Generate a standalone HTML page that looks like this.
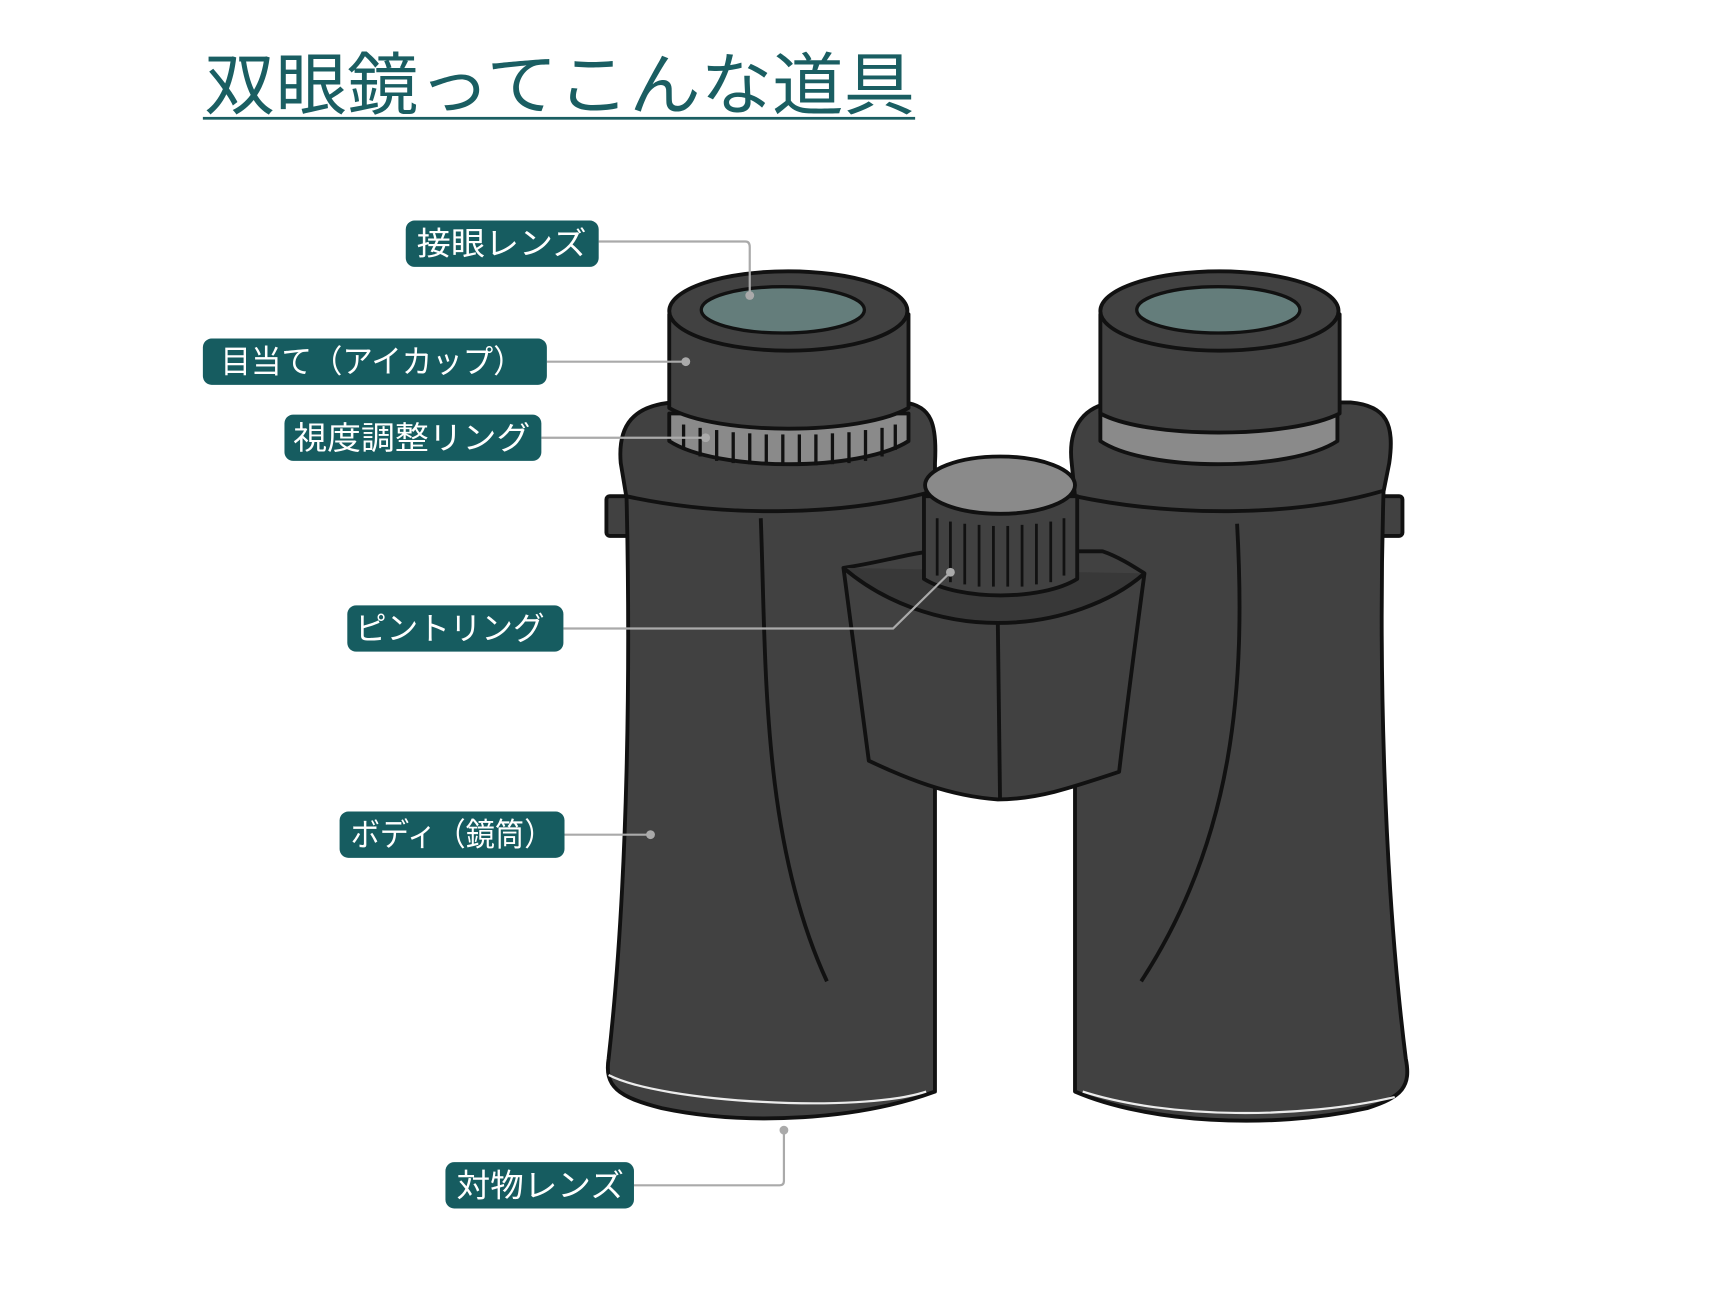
<!DOCTYPE html>
<html><head><meta charset="utf-8"><style>
html,body{margin:0;padding:0;background:#fff;width:1720px;height:1300px;overflow:hidden}
svg{display:block}
text{font-family:"Liberation Sans","Noto Sans CJK JP",sans-serif}
</style></head><body>
<svg width="1720" height="1300" viewBox="0 0 1560 1179" xmlns="http://www.w3.org/2000/svg">
<rect width="1560" height="1179" fill="#fff"/>
<text x="185" y="99" font-size="62" fill="#1a5e62" textLength="645" lengthAdjust="spacingAndGlyphs">双眼鏡ってこんな道具</text>
<rect x="184" y="106" width="646" height="2.5" fill="#1a5e62"/>

<g stroke="#111" stroke-width="3.5" stroke-linejoin="round">
<!-- side tabs -->
<rect x="550" y="450" width="22" height="36" fill="#414141" rx="3"/>
<rect x="1250" y="450" width="22" height="36" fill="#414141" rx="3"/>
<!-- left body -->
<path d="M568,440 C572,600 570,800 552,960 C548,985 560,995 600,1005 C680,1022 780,1015 848,990 L848,430 Z" fill="#414141"/>
<!-- right body -->
<path d="M975,430 L975,990 C1040,1018 1150,1025 1240,1005 C1272,995 1280,985 1275,960 C1255,800 1250,600 1255,440 Z" fill="#414141"/>
<!-- left shoulder -->
<path d="M563,420 C560,385 575,368 610,365 L820,365 C845,368 850,385 848,420 L848,445 C760,470 650,468 568,450 Z" fill="#414141"/>
<!-- right shoulder -->
<path d="M972,420 C968,385 985,368 1010,365 L1225,365 C1258,368 1265,385 1260,420 L1255,445 C1170,470 1060,468 975,450 Z" fill="#414141"/>
<!-- body lines -->
<path d="M690,470 C695,600 690,760 750,890" fill="none"/>
<path d="M1122,475 C1130,620 1120,760 1035,890" fill="none"/>
<!-- bridge -->
<path d="M765,515 C800,510 830,500 850,500 L1000,500 C1015,505 1030,515 1038,520 C1030,580 1022,640 1015,700 C970,715 940,725 905,725 C860,722 820,705 788,690 C780,630 772,570 765,515 Z" fill="#414141"/>
<path d="M765,515 C800,545 850,565 905,565 C960,565 1010,545 1038,520" fill="#383838"/>
<line x1="905" y1="565" x2="907" y2="725"/>
<!-- focus knob -->
<path d="M838,450 L838,525 C870,545 945,545 977,525 L977,450 Z" fill="#414141"/>
<ellipse cx="907" cy="440" rx="68" ry="26" fill="#8a8a8a"/>
<g stroke-width="2.5">
<line x1="850" y1="470" x2="850" y2="522"/><line x1="862" y1="473" x2="862" y2="528"/><line x1="875" y1="475" x2="875" y2="530"/><line x1="888" y1="476" x2="888" y2="532"/><line x1="901" y1="477" x2="901" y2="532"/><line x1="914" y1="477" x2="914" y2="532"/><line x1="927" y1="476" x2="927" y2="532"/><line x1="940" y1="475" x2="940" y2="530"/><line x1="953" y1="473" x2="953" y2="528"/><line x1="965" y1="470" x2="965" y2="522"/>
</g>
<!-- left eyepiece ring -->
<path d="M607,375 L607,400 C650,428 780,428 824,400 L824,375 Z" fill="#8a8a8a"/>
<g stroke-width="3">
<line x1="620" y1="385" x2="620" y2="408"/><line x1="635" y1="388" x2="635" y2="414"/><line x1="650" y1="390" x2="650" y2="418"/><line x1="665" y1="392" x2="665" y2="420"/><line x1="680" y1="393" x2="680" y2="421"/><line x1="695" y1="394" x2="695" y2="422"/><line x1="710" y1="394" x2="710" y2="422"/><line x1="725" y1="394" x2="725" y2="422"/><line x1="740" y1="394" x2="740" y2="422"/><line x1="755" y1="393" x2="755" y2="421"/><line x1="770" y1="392" x2="770" y2="420"/><line x1="785" y1="390" x2="785" y2="418"/><line x1="800" y1="388" x2="800" y2="414"/><line x1="812" y1="385" x2="812" y2="408"/>
</g>
<!-- left eyecup -->
<path d="M607,285 L607,370 C650,395 780,395 824,370 L824,285 Z" fill="#414141"/>
<ellipse cx="715" cy="282" rx="108" ry="36" fill="#414141"/>
<ellipse cx="710" cy="281" rx="74" ry="21" fill="#647d7b" stroke-width="3"/>
<!-- right eyepiece band -->
<path d="M998,372 L998,400 C1040,428 1170,428 1213,400 L1213,372 Z" fill="#8a8a8a"/>
<path d="M998,285 L998,375 C1040,398 1170,398 1215,375 L1215,285 Z" fill="#414141"/>
<ellipse cx="1106" cy="282" rx="108" ry="36" fill="#414141"/>
<ellipse cx="1105" cy="281" rx="74" ry="21" fill="#647d7b" stroke-width="3"/>
</g>
<!-- white highlights -->
<g stroke="#fff" stroke-width="2" fill="none" opacity="0.9">
<path d="M552,975 C600,1000 780,1010 840,990"/>
<path d="M982,990 C1060,1015 1180,1015 1265,995"/>
</g>

<!-- leader lines -->
<g stroke="#aaa" stroke-width="2" fill="none">
<path d="M543,219 L676,219 Q680,219 680,224 L680,268"/>
<path d="M496,328 L622,328"/>
<path d="M491,397 L640,397"/>
<path d="M511,570 L810,570 L862,519"/>
<path d="M512,757 L590,757"/>
<path d="M575,1075 L707,1075 Q711,1075 711,1071 L711,1025"/>
</g>
<g fill="#aaa">
<circle cx="680" cy="268" r="4"/><circle cx="622" cy="328" r="4"/><circle cx="640" cy="397" r="4"/><circle cx="862" cy="519" r="4"/><circle cx="590" cy="757" r="4"/><circle cx="711" cy="1025" r="4"/>
</g>

<!-- labels -->
<g fill="#165c60">
<rect x="368" y="200" width="175" height="42" rx="8"/>
<rect x="184" y="307" width="312" height="42" rx="8"/>
<rect x="258" y="376" width="233" height="42" rx="8"/>
<rect x="315" y="549" width="196" height="42" rx="8"/>
<rect x="308" y="736" width="204" height="42" rx="8"/>
<rect x="404" y="1054" width="171" height="42" rx="8"/>
</g>
<g fill="#fff" font-size="29">
<text x="378" y="231" textLength="154" lengthAdjust="spacingAndGlyphs">接眼レンズ</text>
<text x="200" y="338" textLength="275" lengthAdjust="spacingAndGlyphs">目当て（アイカップ）</text>
<text x="266" y="407" textLength="215" lengthAdjust="spacingAndGlyphs">視度調整リング</text>
<text x="322" y="580" textLength="172" lengthAdjust="spacingAndGlyphs">ピントリング</text>
<text x="318" y="767" textLength="184" lengthAdjust="spacingAndGlyphs">ボディ（鏡筒）</text>
<text x="414" y="1085" textLength="152" lengthAdjust="spacingAndGlyphs">対物レンズ</text>
</g>
</svg>
</body></html>
